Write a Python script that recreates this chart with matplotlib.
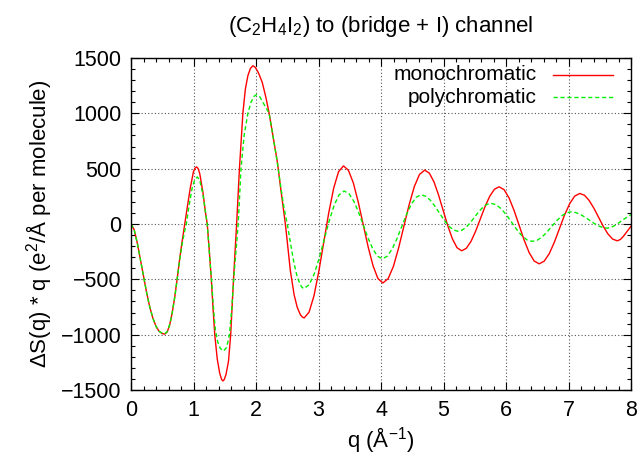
import matplotlib
matplotlib.use("Agg")
import matplotlib.pyplot as plt
from matplotlib.ticker import MultipleLocator

# ---- data ----
q_mono = [0.00, 0.05, 0.10, 0.15, 0.20, 0.25, 0.30, 0.35, 0.40, 0.45, 0.50, 0.54, 0.58, 0.62, 0.66,
          0.70, 0.74, 0.78, 0.82, 0.86, 0.90, 0.95, 1.00, 1.025, 1.05, 1.075, 1.10, 1.15, 1.19, 1.22,
          1.255, 1.285, 1.31, 1.34, 1.38, 1.42, 1.45, 1.47, 1.49, 1.52, 1.56, 1.595, 1.64, 1.69, 1.735,
          1.79, 1.83, 1.87, 1.91, 1.95, 1.99, 2.04, 2.10, 2.16, 2.21, 2.27, 2.34, 2.40, 2.47, 2.55,
          2.61, 2.66, 2.71, 2.74, 2.77, 2.849, 2.928, 3.006, 3.085, 3.164, 3.243, 3.321, 3.40, 3.479, 3.558,
          3.636, 3.715, 3.794, 3.873, 3.951, 4.03, 4.114, 4.198, 4.281, 4.365, 4.449, 4.533, 4.616, 4.70, 4.774,
          4.848, 4.921, 4.995, 5.069, 5.143, 5.216, 5.29, 5.365, 5.44, 5.515, 5.59, 5.665, 5.74, 5.815, 5.89,
          5.97, 6.05, 6.13, 6.21, 6.29, 6.37, 6.45, 6.53, 6.611, 6.693, 6.774, 6.855, 6.936, 7.018, 7.099,
          7.18, 7.255, 7.33, 7.405, 7.48, 7.555, 7.63, 7.705, 7.78, 7.83, 7.88, 7.94, 8.00]
s_mono = [0, -50, -170, -320, -470, -620, -750, -850, -925, -970, -990, -995, -975, -910, -800,
          -660, -490, -310, -150, 0, 150, 330, 475, 505, 516, 500, 455, 290, 110, 0,
          -260, -500, -740, -1000, -1220, -1350, -1405, -1418, -1408, -1360, -1240, -1000, -500, 0, 500,
          1000, 1220, 1340, 1405, 1430, 1415, 1365, 1280, 1140, 1000, 800, 567, 300, 0, -423,
          -640, -753, -820, -840, -849, -797, -648, -425, -162, 101, 324, 473, 525, 485, 370,
          198, -4, -206, -378, -493, -533, -494, -384, -218, -23, 172, 338, 448, 487, 459,
          380, 262, 122, -17, -135, -214, -242, -220, -157, -64, 47, 158, 251, 314, 336,
          310, 234, 121, -12, -145, -258, -334, -360, -336, -267, -164, -42, 80, 183, 252,
          276, 260, 213, 144, 62, -20, -89, -136, -152, -140, -110, -65, -20]

q_poly = [0.00, 0.05, 0.10, 0.15, 0.20, 0.25, 0.30, 0.35, 0.40, 0.45, 0.50, 0.54, 0.58, 0.62, 0.66,
          0.70, 0.74, 0.78, 0.82, 0.86, 0.885, 0.93, 0.98, 1.02, 1.06, 1.10, 1.15, 1.22, 1.25, 1.29,
          1.32, 1.35, 1.39, 1.43, 1.48, 1.53, 1.575, 1.61, 1.65, 1.715, 1.76, 1.81, 1.87, 1.92, 1.97,
          2.01, 2.06, 2.11, 2.16, 2.21, 2.27, 2.34, 2.40, 2.45, 2.50, 2.56, 2.61, 2.66, 2.71, 2.74,
          2.77, 2.85, 2.93, 3.01, 3.09, 3.17, 3.25, 3.33, 3.41, 3.486, 3.563, 3.639, 3.715, 3.791, 3.868,
          3.944, 4.02, 4.098, 4.175, 4.253, 4.33, 4.408, 4.485, 4.563, 4.64, 4.714, 4.788, 4.861, 4.935, 5.009,
          5.083, 5.156, 5.23, 5.296, 5.363, 5.429, 5.495, 5.561, 5.628, 5.694, 5.76, 5.843, 5.925, 6.008, 6.09,
          6.173, 6.255, 6.338, 6.42, 6.498, 6.575, 6.653, 6.73, 6.808, 6.885, 6.963, 7.04, 7.113, 7.185, 7.258,
          7.33, 7.403, 7.475, 7.548, 7.62, 7.68, 7.74, 7.80, 7.87, 7.94, 8.00]
s_poly = [0, -50, -170, -320, -470, -620, -750, -850, -925, -970, -988, -992, -972, -908, -800,
          -662, -495, -320, -175, -60, 0, 170, 330, 400, 425, 395, 270, 0, -230, -520,
          -760, -960, -1070, -1125, -1148, -1115, -1000, -780, -450, 0, 500, 800, 1000, 1100, 1155,
          1169, 1150, 1100, 1050, 1000, 800, 560, 320, 140, 0, -200, -360, -480, -550, -575,
          -583, -549, -454, -311, -142, 26, 169, 264, 298, 275, 208, 109, -8, -125, -224,
          -291, -314, -292, -229, -136, -25, 86, 179, 242, 264, 251, 216, 162, 99, 36,
          -18, -53, -66, -56, -29, 12, 60, 109, 150, 177, 187, 174, 137, 81, 15,
          -51, -107, -144, -157, -147, -118, -75, -23, 28, 71, 100, 110, 104, 88, 64,
          36, 8, -16, -32, -38, -30, -14, 8, 38, 63, 85]

x_ticks = [0, 1, 2, 3, 4, 5, 6, 7, 8]
y_ticks = [-1500, -1000, -500, 0, 500, 1000, 1500]
labels = ['monochromatic', 'polychromatic']
colors = ['#ff0000', '#00ee00']

plt.rcParams['font.family'] = ['Liberation Sans', 'DejaVu Sans']
plt.rcParams['mathtext.fontset'] = 'custom'
plt.rcParams['mathtext.rm'] = 'Liberation Sans'
plt.rcParams['mathtext.it'] = 'Liberation Sans'
plt.rcParams['mathtext.default'] = 'regular'

fig = plt.figure(figsize=(6.42, 4.59), dpi=100)
ax = fig.add_axes([131/642, 1-390/459, 500/642, 332/459])

l1, = ax.plot(q_mono, s_mono, color=colors[0], lw=1.0, solid_joinstyle='round')
l2, = ax.plot(q_poly, s_poly, color=colors[1], lw=1.0, dashes=(3, 2))

ax.set_xlim(0, 8)
ax.set_ylim(-1500, 1500)
ax.set_xticks(x_ticks)
ax.set_yticks(y_ticks)
ax.set_xticklabels([str(v) for v in x_ticks])
ax.set_yticklabels([str(v).replace('-', '\u2212') for v in y_ticks])
ax.xaxis.set_minor_locator(MultipleLocator(0.2))
ax.yaxis.set_minor_locator(MultipleLocator(100))
ax.tick_params(which='both', direction='in', top=True, right=True, labelsize=15.5, pad=7)
ax.tick_params(which='major', length=6, width=0.8)
ax.tick_params(which='minor', length=3, width=0.8)
ax.grid(True, which='major', color='#555555', linestyle=(0, (1, 2)), lw=0.8)
for sp in ax.spines.values():
    sp.set_linewidth(1.0)

ax.set_title('(C$_2$H$_4$I$_2$) to (bridge + I) channel', fontsize=16, pad=19)
ax.set_xlabel('q (Å$^{-1}$)', fontsize=16, labelpad=3)
ax.set_ylabel('ΔS(q) * q (e$^2$/Å per molecule)', fontsize=16, labelpad=5)

# gnuplot-style key: right-aligned text followed by line sample
key_y = [0.949, 0.8825]
for lab, col, yk, ln in zip(labels, colors, key_y, [l1, l2]):
    ax.text(0.812, yk, lab, transform=ax.transAxes, ha='right', va='center', fontsize=15)
    kw = dict(color=col, lw=1.0, transform=ax.transAxes)
    if ln is l2:
        kw['dashes'] = (3, 2)
    ax.plot([0.844, 0.964], [yk, yk], **kw)

fig.savefig('out.png', dpi=100)
